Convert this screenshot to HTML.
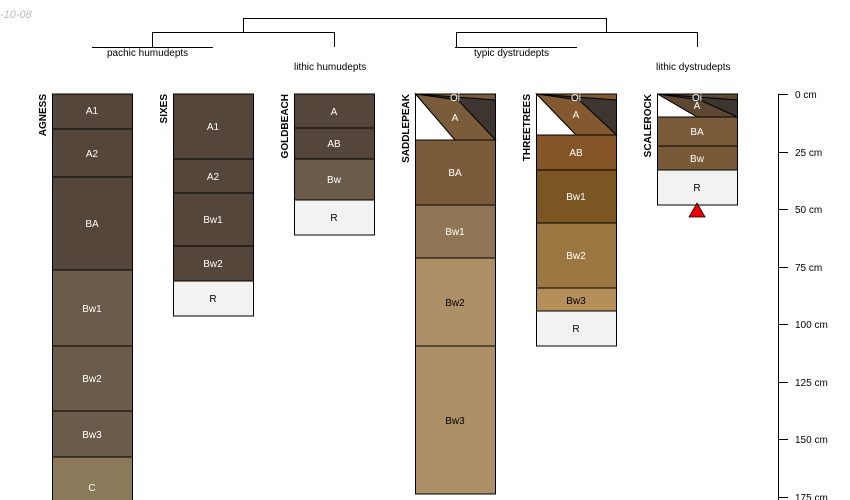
<!DOCTYPE html>
<html><head><meta charset="utf-8"><style>
html,body{margin:0;padding:0;background:#fff;}
svg{display:block;font-family:"Liberation Sans",sans-serif;}
</style></head><body>
<svg width="850" height="500" viewBox="0 0 850 500">
<text x="0" y="18" font-size="11" font-style="italic" fill="#bbb">-10-08</text>
<g stroke="#000" stroke-width="1" fill="none">
<path d="M243.5 32V18.5H606.5V32"/>
<path d="M152.5 47V32.5H334.5V47"/>
<path d="M456.5 47V32.5H697.5V47"/>
<path d="M92 47.5H213"/>
<path d="M455 47.5H577"/>
</g>
<g font-size="10" fill="#000">
<text x="107" y="56">pachic humudepts</text>
<text x="294" y="70">lithic humudepts</text>
<text x="474" y="56">typic dystrudepts</text>
<text x="656" y="70">lithic dystrudepts</text>
</g>
<g stroke="#000" stroke-width="1">
<!-- AGNESS -->
<rect x="52.5" y="94" width="80" height="35" fill="#54463a"/>
<rect x="52.5" y="129" width="80" height="48" fill="#54463a"/>
<rect x="52.5" y="177" width="80" height="93" fill="#54463a"/>
<rect x="52.5" y="270" width="80" height="76" fill="#6b5b4a"/>
<rect x="52.5" y="346" width="80" height="65" fill="#6b5b4a"/>
<rect x="52.5" y="411" width="80" height="46" fill="#6b5b4a"/>
<rect x="52.5" y="457" width="80" height="50" fill="#8b7a5a"/>
<!-- SIXES -->
<rect x="173.5" y="94" width="80" height="65" fill="#54463a"/>
<rect x="173.5" y="159" width="80" height="34" fill="#54463a"/>
<rect x="173.5" y="193" width="80" height="53" fill="#54463a"/>
<rect x="173.5" y="246" width="80" height="35" fill="#54463a"/>
<rect x="173.5" y="281" width="80" height="35" fill="#f2f2f2"/>
<!-- GOLDBEACH -->
<rect x="294.5" y="94" width="80" height="34" fill="#54463a"/>
<rect x="294.5" y="128" width="80" height="31" fill="#54463a"/>
<rect x="294.5" y="159" width="80" height="41" fill="#6b5b4a"/>
<rect x="294.5" y="200" width="80" height="35" fill="#f2f2f2"/>
<!-- SADDLEPEAK -->
<rect x="415.5" y="94" width="80" height="46" fill="#7a5c3a"/>
<polygon points="415.5,94 495.5,100 495.5,140" fill="#3d3530"/>
<polygon points="415.5,94 458,100 495.5,140 455,140" fill="#7a5c3a"/>
<polygon points="415.5,94 455,140 415.5,140" fill="#fff"/>
<rect x="415.5" y="140" width="80" height="65" fill="#7a5c3a"/>
<rect x="415.5" y="205" width="80" height="53" fill="#8f7455"/>
<rect x="415.5" y="258" width="80" height="88" fill="#ad8f68"/>
<rect x="415.5" y="346" width="80" height="148" fill="#ad8f68"/>
<!-- THREETREES -->
<rect x="536.5" y="94" width="80" height="41" fill="#835a30"/>
<polygon points="536.5,94 616.5,100 616.5,135" fill="#3d3530"/>
<polygon points="536.5,94 579,100 616.5,135 576,135" fill="#835a30"/>
<polygon points="536.5,94 576,135 536.5,135" fill="#fff"/>
<rect x="536.5" y="135" width="80" height="35" fill="#855528"/>
<rect x="536.5" y="170" width="80" height="53" fill="#7b5522"/>
<rect x="536.5" y="223" width="80" height="65" fill="#9b7640"/>
<rect x="536.5" y="288" width="80" height="23" fill="#b58f5a"/>
<rect x="536.5" y="311" width="80" height="35" fill="#f2f2f2"/>
<!-- SCALEROCK -->
<rect x="657.5" y="94" width="80" height="23" fill="#5e4730"/>
<polygon points="657.5,94 737.5,100 737.5,117" fill="#3d3530"/>
<polygon points="657.5,94 700,100 737.5,117 697,117" fill="#5e4730"/>
<polygon points="657.5,94 697,117 657.5,117" fill="#fff"/>
<rect x="657.5" y="117" width="80" height="29" fill="#7a5c3a"/>
<rect x="657.5" y="146" width="80" height="24" fill="#785a38"/>
<rect x="657.5" y="170" width="80" height="35" fill="#f2f2f2"/>
</g>
<polygon points="697,203 705,217 689,217" fill="#e00" stroke="#000" stroke-width="0.8"/>
<g font-size="10" fill="#fff" text-anchor="middle">
<text x="92" y="114">A1</text><text x="92" y="157">A2</text><text x="92" y="227">BA</text>
<text x="92" y="312">Bw1</text><text x="92" y="382">Bw2</text><text x="92" y="438">Bw3</text><text x="92" y="491">C</text>
<text x="213" y="130">A1</text><text x="213" y="180">A2</text><text x="213" y="223">Bw1</text><text x="213" y="267">Bw2</text>
<text x="334" y="115">A</text><text x="334" y="147">AB</text><text x="334" y="183">Bw</text>
<text x="455" y="101">Oi</text><text x="455" y="121">A</text><text x="455" y="176">BA</text><text x="455" y="235">Bw1</text>
<text x="576" y="101">Oi</text><text x="576" y="118">A</text><text x="576" y="156">AB</text><text x="576" y="200">Bw1</text><text x="576" y="259">Bw2</text>
<text x="697" y="101">Oi</text><text x="697" y="109">A</text><text x="697" y="135">BA</text><text x="697" y="162">Bw</text>
</g>
<g font-size="10" fill="#000" text-anchor="middle">
<text x="213" y="302">R</text><text x="334" y="221">R</text>
<text x="455" y="306">Bw2</text><text x="455" y="424">Bw3</text>
<text x="576" y="304">Bw3</text><text x="576" y="332">R</text><text x="697" y="191">R</text>
</g>
<g font-size="10" font-weight="bold" fill="#000" text-anchor="end">
<text transform="translate(46,94) rotate(-90)">AGNESS</text>
<text transform="translate(167,94) rotate(-90)">SIXES</text>
<text transform="translate(288,94) rotate(-90)">GOLDBEACH</text>
<text transform="translate(409,94) rotate(-90)">SADDLEPEAK</text>
<text transform="translate(530,94) rotate(-90)">THREETREES</text>
<text transform="translate(651,94) rotate(-90)">SCALEROCK</text>
</g>
<g stroke="#000" stroke-width="1">
<line x1="778.5" y1="94" x2="778.5" y2="500"/>
<line x1="778" y1="94.5" x2="788" y2="94.5"/>
<line x1="778" y1="152.5" x2="788" y2="152.5"/>
<line x1="778" y1="209.5" x2="788" y2="209.5"/>
<line x1="778" y1="267.5" x2="788" y2="267.5"/>
<line x1="778" y1="324.5" x2="788" y2="324.5"/>
<line x1="778" y1="382.5" x2="788" y2="382.5"/>
<line x1="778" y1="439.5" x2="788" y2="439.5"/>
<line x1="778" y1="497.5" x2="788" y2="497.5"/>
</g>
<g font-size="10" fill="#000">
<text x="795" y="98">0 cm</text><text x="795" y="156">25 cm</text><text x="795" y="213">50 cm</text>
<text x="795" y="271">75 cm</text><text x="795" y="328">100 cm</text><text x="795" y="386">125 cm</text>
<text x="795" y="443">150 cm</text><text x="795" y="501">175 cm</text>
</g>
</svg>
</body></html>
